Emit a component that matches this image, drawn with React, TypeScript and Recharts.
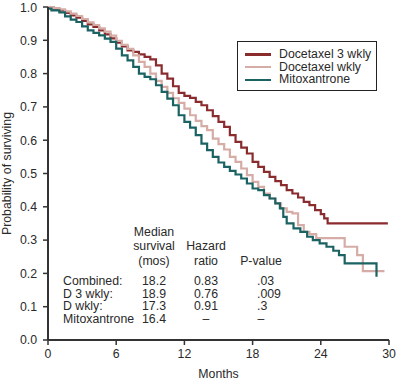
import React from "react";
import { LineChart, Line, XAxis, YAxis, Legend, Label } from "recharts";

// Kaplan-Meier curves (months, probability)
const d3Months = [0, 0.5, 1, 1.5, 2, 2.5, 3, 3.5, 4, 4.5, 5, 5.5, 6, 6.5, 7, 7.5, 8, 8.5, 9, 9.5, 10, 10.5, 11, 11.5, 12, 12.5, 13, 13.5, 14, 14.5, 15, 15.5, 16, 16.5, 17, 17.5, 18, 18.5, 19, 19.5, 20, 20.5, 21, 21.5, 22, 22.5, 23, 23.5, 24, 24.3, 24.6, 29.9];
const d3Surv = [1.0, 0.995, 0.99, 0.982, 0.975, 0.968, 0.958, 0.948, 0.94, 0.93, 0.918, 0.906, 0.893, 0.882, 0.87, 0.865, 0.858, 0.85, 0.843, 0.825, 0.8, 0.785, 0.762, 0.742, 0.733, 0.727, 0.715, 0.705, 0.69, 0.672, 0.655, 0.64, 0.615, 0.595, 0.578, 0.56, 0.535, 0.52, 0.505, 0.49, 0.477, 0.465, 0.45, 0.44, 0.428, 0.415, 0.405, 0.39, 0.378, 0.365, 0.35, 0.35];

const dwMonths = [0, 0.5, 1, 1.5, 2, 2.5, 3, 3.5, 4, 4.5, 5, 5.5, 6, 6.5, 7, 7.5, 8, 8.5, 9, 9.5, 10, 10.5, 11, 11.5, 12, 12.5, 13, 13.5, 14, 14.5, 15, 15.5, 16, 16.5, 17, 17.5, 18, 18.5, 19, 19.5, 20, 20.5, 21, 21.5, 22, 22.5, 23, 23.6, 26.1, 27.2, 27.7, 29.6];
const dwSurv = [1.0, 0.997, 0.993, 0.987, 0.98, 0.973, 0.964, 0.954, 0.946, 0.936, 0.926, 0.914, 0.898, 0.886, 0.874, 0.855, 0.835, 0.82, 0.8, 0.778, 0.76, 0.742, 0.726, 0.712, 0.695, 0.675, 0.658, 0.642, 0.63, 0.605, 0.588, 0.572, 0.55, 0.535, 0.515, 0.495, 0.475, 0.46, 0.44, 0.425, 0.41, 0.395, 0.385, 0.38, 0.345, 0.325, 0.318, 0.306, 0.28, 0.255, 0.207, 0.207];

const mitoMonths = [0, 0.3, 1, 1.5, 2, 2.5, 3, 3.5, 4, 4.5, 5, 5.5, 6, 6.5, 7, 7.5, 8, 8.5, 9, 9.5, 10, 10.5, 11, 11.5, 12, 12.5, 13, 13.5, 14, 14.5, 15, 15.5, 16, 16.5, 17, 17.5, 18, 18.5, 19, 19.5, 20, 20.4, 20.7, 21, 21.6, 22.2, 22.8, 23.3, 23.9, 24.5, 25.1, 25.6, 26.1, 28.9];
const mitoSurv = [0.995, 0.99, 0.984, 0.972, 0.962, 0.955, 0.942, 0.93, 0.922, 0.915, 0.905, 0.895, 0.875, 0.855, 0.84, 0.82, 0.8, 0.79, 0.783, 0.765, 0.745, 0.725, 0.705, 0.675, 0.655, 0.638, 0.615, 0.59, 0.57, 0.55, 0.533, 0.52, 0.508, 0.497, 0.485, 0.47, 0.455, 0.45, 0.435, 0.425, 0.41, 0.395, 0.37, 0.35, 0.335, 0.325, 0.31, 0.3, 0.29, 0.28, 0.268, 0.255, 0.23, 0.19];

const xTicks = [0, 6, 12, 18, 24, 30];
const yTicks = [0, 0.1, 0.2, 0.3, 0.4, 0.5, 0.6, 0.7, 0.8, 0.9, 1.0];

const seriesNames = ["Docetaxel 3 wkly", "Docetaxel wkly", "Mitoxantrone"];
const seriesColors = ["#8a2b2e", "#d6aca6", "#1b6262"];

// text table in the lower left
const rowLabels = ["Combined:", "D 3 wkly:", "D wkly:", "Mitoxantrone"];
const medians = ["18.2", "18.9", "17.3", "16.4"];
const hazards = ["0.83", "0.76", "0.91", "–"];
const pValues = [".03", ".009", ".3", "–"];

const toRows = (months: number[], surv: number[]) =>
  months.map((m, i) => ({ m, s: surv[i] }));

const series = [
  toRows(d3Months, d3Surv),
  toRows(dwMonths, dwSurv),
  toRows(mitoMonths, mitoSurv),
];

const FONT = "'Liberation Sans', Arial, Helvetica, sans-serif";
const TEXT = "#2a2a2a";

const renderLegend = () => (
  <div
    style={{
      width: 140,
      height: 50,
      boxSizing: "border-box",
      border: "1.5px solid #222",
      padding: "6px 0 0 7px",
      background: "#fff",
      fontFamily: FONT,
      fontSize: 12.3,
      color: TEXT,
      lineHeight: "12.7px",
      whiteSpace: "nowrap",
    }}
  >
    {seriesNames.map((n, i) => (
      <div key={n} style={{ display: "flex", alignItems: "center" }}>
        <span
          style={{
            display: "inline-block",
            flex: "none",
            width: 26,
            height: 2.5,
            background: seriesColors[i],
            marginRight: 8,
          }}
        />
        <span>{n}</span>
      </div>
    ))}
  </div>
);

const YTitle = (props: any) => {
  const vb = props.viewBox;
  const cy = vb.y + vb.height / 2;
  return (
    <text
      x={7}
      y={cy}
      transform={`rotate(-90, 7, ${cy})`}
      textAnchor="middle"
      dominantBaseline="central"
      fontSize={12.3}
      fontFamily={FONT}
      fill={TEXT}
    >
      Probability of surviving
    </text>
  );
};

export default function App() {
  const rowY = [281, 293.5, 306, 318.5];
  return (
    <div style={{ position: "absolute", left: 0, top: 0, width: 396, height: 381, background: "#fff" }}>
      <LineChart
        width={396}
        height={381}
        margin={{ top: 7, right: 7, bottom: 0, left: 0 }}
        style={{ fontFamily: FONT }}
      >
        <XAxis
          dataKey="m"
          type="number"
          domain={[0, 30]}
          ticks={xTicks}
          height={41}
          tickSize={5}
          tickMargin={4}
          axisLine={{ stroke: "#333", strokeWidth: 2 }}
          tickLine={{ stroke: "#333", strokeWidth: 1.5 }}
          tick={{ fill: TEXT, fontSize: 12.3, fontFamily: FONT }}
          allowDataOverflow
        >
          <Label value="Months" position="insideBottom" offset={3} fill={TEXT} fontSize={12.3} fontFamily={FONT} />
        </XAxis>
        <YAxis
          type="number"
          domain={[0, 1]}
          ticks={yTicks}
          width={48}
          tickSize={5}
          tickMargin={6}
          tickFormatter={(v: number) => v.toFixed(1)}
          axisLine={{ stroke: "#333", strokeWidth: 2 }}
          tickLine={{ stroke: "#333", strokeWidth: 1.5 }}
          tick={{ fill: TEXT, fontSize: 12.3, fontFamily: FONT }}
        >
          <Label content={<YTitle />} />
        </YAxis>
        <Legend
          layout="vertical"
          align="center"
          verticalAlign="middle"
          content={renderLegend}
          wrapperStyle={{ left: 237, top: 41, width: 140, height: 50 }}
        />
        {series.map((data, i) => (
          <Line
            key={seriesNames[i]}
            data={data}
            dataKey="s"
            name={seriesNames[i]}
            type="stepAfter"
            stroke={seriesColors[i]}
            strokeWidth={2.2}
            dot={false}
            activeDot={false}
            isAnimationActive={false}
          />
        ))}
      </LineChart>
      <svg
        width={396}
        height={381}
        style={{ position: "absolute", left: 0, top: 0, pointerEvents: "none" }}
        fontFamily={FONT}
        fontSize={12.3}
        fill={TEXT}
      >
        <text x={154} y={232} textAnchor="middle" dominantBaseline="central">Median</text>
        <text x={154} y={246} textAnchor="middle" dominantBaseline="central">survival</text>
        <text x={154} y={261} textAnchor="middle" dominantBaseline="central">(mos)</text>
        <text x={206} y={246} textAnchor="middle" dominantBaseline="central">Hazard</text>
        <text x={206} y={261} textAnchor="middle" dominantBaseline="central">ratio</text>
        <text x={261} y={261} textAnchor="middle" dominantBaseline="central">P-value</text>
        {rowLabels.map((r, i) => (
          <g key={r}>
            <text x={63} y={rowY[i]} dominantBaseline="central">{r}</text>
            <text x={154} y={rowY[i]} textAnchor="middle" dominantBaseline="central">{medians[i]}</text>
            <text x={206} y={rowY[i]} textAnchor="middle" dominantBaseline="central">{hazards[i]}</text>
            <text
              x={pValues[i] === "–" ? 261 : 257}
              y={rowY[i]}
              textAnchor={pValues[i] === "–" ? "middle" : "start"}
              dominantBaseline="central"
            >
              {pValues[i]}
            </text>
          </g>
        ))}
      </svg>
    </div>
  );
}
